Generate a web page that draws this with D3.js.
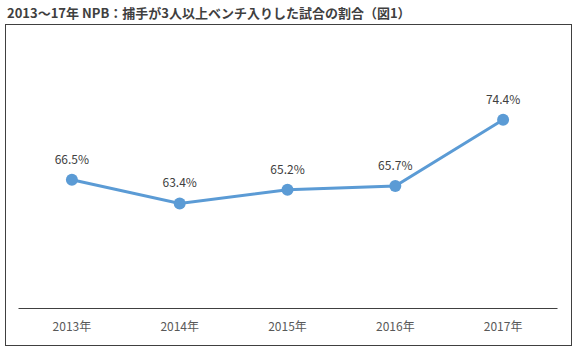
<!DOCTYPE html>
<html>
<head>
<meta charset="utf-8">
<script src="https://cdn.jsdelivr.net/npm/d3@7"></script>
<style>
  body { margin: 0; background: #fff; }
  svg { display: block; }
</style>
</head>
<body>
<div id="chart"></div>
<script>
const title = "2013～17年 NPB：捕手が3人以上ベンチ入りした試合の割合（図1）";
const years = ["2013年", "2014年", "2015年", "2016年", "2017年"];
const rates = [66.5, 63.4, 65.2, 65.7, 74.4];

const width = 578;
const height = 351;
const margin = { top: 77, right: 21, bottom: 43, left: 18 };

const svg = d3.select("#chart")
  .append("svg")
  .attr("width", width)
  .attr("height", height);

const font = "'Noto Sans CJK JP', 'Noto Sans', sans-serif";

// 枠
svg.append("rect")
  .attr("x", 5.5).attr("y", 24.5)
  .attr("width", 566).attr("height", 321)
  .attr("fill", "none")
  .attr("stroke", "#404040")
  .attr("stroke-width", 1);

svg.append("text")
  .attr("x", 7).attr("y", 18)
  .attr("font-family", font)
  .attr("font-weight", "bold")
  .attr("font-size", 13)
  .attr("fill", "#3f3f3f")
  .text(title);

const x = d3.scaleBand()
  .domain(years)
  .range([margin.left, width - margin.right]);

const y = d3.scaleLinear()
  .domain([50, 80])
  .range([height - margin.bottom - 2.5, margin.top]);

// x軸
const xAxis = svg.append("g")
  .attr("transform", `translate(0,${height - margin.bottom})`)
  .call(d3.axisBottom(x).tickSize(0).tickPadding(14));
xAxis.select(".domain").attr("stroke", "#404040").attr("stroke-width", 1.2);
xAxis.selectAll("text")
  .attr("font-family", font)
  .attr("font-size", 12)
  .attr("fill", "#595959");

const cx = d => x(d) + x.bandwidth() / 2;

svg.append("path")
  .datum(rates)
  .attr("fill", "none")
  .attr("stroke", "#5b9bd5")
  .attr("stroke-width", 3)
  .attr("d", d3.line().x((d, i) => cx(years[i])).y(d => y(d)));

svg.selectAll("circle")
  .data(rates)
  .join("circle")
  .attr("cx", (d, i) => cx(years[i]))
  .attr("cy", d => y(d))
  .attr("r", 6)
  .attr("fill", "#5b9bd5");

svg.selectAll(".lbl")
  .data(rates)
  .join("text")
  .attr("class", "lbl")
  .attr("x", (d, i) => cx(years[i]))
  .attr("y", d => y(d) - 16)
  .attr("text-anchor", "middle")
  .attr("font-family", font)
  .attr("font-size", 12)
  .attr("fill", "#404040")
  .text(d => d.toFixed(1) + "%");
</script>
</body>
</html>
